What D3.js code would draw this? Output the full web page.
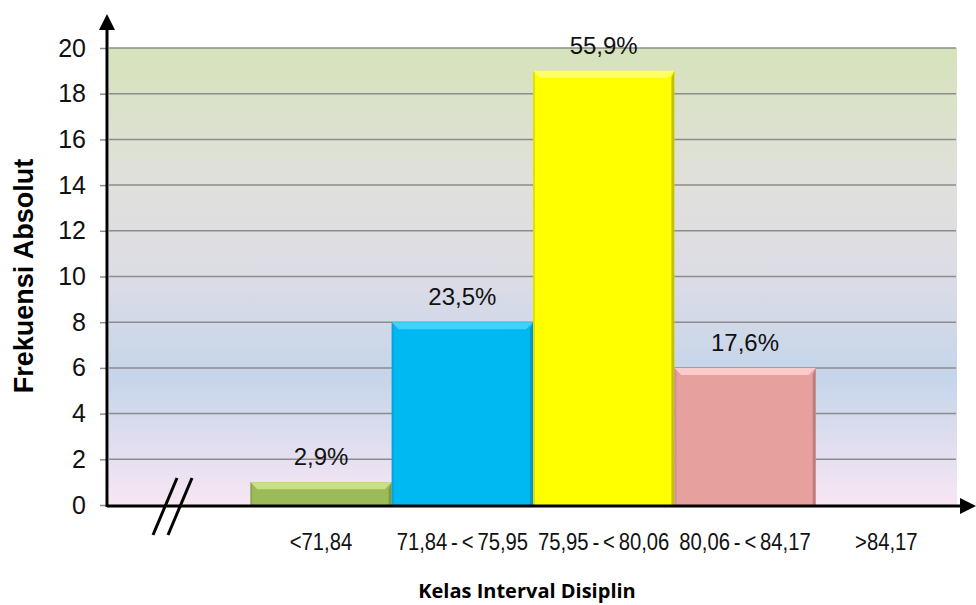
<!DOCTYPE html>
<html lang="en">
<head>
  <meta charset="UTF-8">
  <title>Kelas Interval Disiplin</title>
  <script src="https://d3js.org/d3.v7.min.js"></script>
  <style>
    html, body { margin: 0; background: #fff; }
    .tick-y { font-family: Arial, "Liberation Sans", sans-serif; font-size: 25px; fill: #111; }
    .tick-x { font-family: Arial, "Liberation Sans", sans-serif; font-size: 23px; fill: #111; word-spacing: -2px; }
    .pct { font-family: Arial, "Liberation Sans", sans-serif; font-size: 24px; fill: #111; text-anchor: middle; }
    .y-title { font-family: Arial, "Liberation Sans", sans-serif; font-size: 27px; font-weight: bold; }
    .x-title { font-family: "Open Sans", sans-serif; font-size: 20px; font-weight: bold; }
  </style>
</head>
<body>
  <svg width="976" height="605"></svg>
  <script>
    // data
    const categories = ["", "<71,84", "71,84 - < 75,95", "75,95 - < 80,06", "80,06 - < 84,17", ">84,17"];
    const counts = [null, 1, 8, 19, 6, 0];
    const percents = [null, "2,9%", "23,5%", "55,9%", "17,6%", null];
    const yTicks = [0, 2, 4, 6, 8, 10, 12, 14, 16, 18, 20];
    const barColors = [null, "#9bbb59", "#00b9f2", "#ffff00", "#e6a09e", "#ccc"];
    const barLight = [null, "#d2e88a", "#4dd4ff", "#ffff7a", "#fcd2d2", "#eee"];
    const barDark = [null, "#6f8a38", "#0088b8", "#a8a800", "#a87270", "#999"];

    const x0 = 109, x1 = 957, yTop = 48, yBot = 505;

    const svg = d3.select("svg");

    const x = d3.scaleBand().domain(categories).range([x0, x1]).padding(0);
    const y = d3.scaleLinear().domain([0, 20]).range([yBot, yTop]);

    // background gradient
    const defs = svg.append("defs");
    const bg = defs.append("linearGradient").attr("id", "bg")
      .attr("x1", 0).attr("y1", 0).attr("x2", 0).attr("y2", 1);
    bg.append("stop").attr("offset", "0%").attr("stop-color", "#d6e3bb");
    bg.append("stop").attr("offset", "30%").attr("stop-color", "#e0e0dc");
    bg.append("stop").attr("offset", "50%").attr("stop-color", "#dcdce6");
    bg.append("stop").attr("offset", "72%").attr("stop-color", "#c5d5ea");
    bg.append("stop").attr("offset", "100%").attr("stop-color", "#f8e6f4");

    svg.append("rect")
      .attr("x", x0).attr("y", yTop)
      .attr("width", x1 - x0).attr("height", yBot - yTop)
      .attr("fill", "url(#bg)");

    // gridlines
    svg.append("g").selectAll("line")
      .data(yTicks.filter(d => d > 0))
      .enter().append("line")
      .attr("x1", x0).attr("x2", x1 - 1)
      .attr("y1", d => y(d)).attr("y2", d => y(d))
      .attr("stroke", "#8c8c8c").attr("stroke-width", 1.5);

    // bars with bevel
    const bw = x.bandwidth();
    const bars = categories.map((c, i) => ({ c, v: counts[i], i })).filter(d => d.v);
    const g = svg.append("g");
    bars.forEach(d => {
      const bx = x(d.c), by = y(d.v), bh = yBot - y(d.v), e = 7;
      g.append("rect").attr("x", bx).attr("y", by).attr("width", bw).attr("height", bh)
        .attr("fill", barColors[d.i]);
      // top bevel
      g.append("polygon")
        .attr("points", [[bx, by], [bx + bw, by], [bx + bw - e, by + e], [bx + e, by + e]].join(" "))
        .attr("fill", barLight[d.i]).attr("opacity", 0.85);
      // right edge
      g.append("polygon")
        .attr("points", [[bx + bw, by], [bx + bw, by + bh], [bx + bw - 3, by + bh], [bx + bw - 3, by + e]].join(" "))
        .attr("fill", barDark[d.i]).attr("opacity", 0.7);
      // left edge
      g.append("polygon")
        .attr("points", [[bx, by], [bx + 2, by + 2], [bx + 2, by + bh], [bx, by + bh]].join(" "))
        .attr("fill", barDark[d.i]).attr("opacity", 0.35);
    });

    // percent labels
    svg.append("g").selectAll("text")
      .data(bars)
      .enter().append("text")
      .attr("class", "pct")
      .attr("x", d => x(d.c) + bw / 2)
      .attr("y", d => y(d.v) - 17)
      .text(d => percents[d.i]);

    // y axis
    const yAxis = d3.axisLeft(y).tickValues(yTicks).tickSize(7).tickPadding(14);
    const ya = svg.append("g").attr("transform", `translate(${x0 - 2},0)`).call(yAxis);
    ya.select(".domain").remove();
    ya.selectAll(".tick line").attr("stroke", "#8c8c8c").attr("stroke-width", 1.5);
    ya.selectAll(".tick text").attr("class", "tick-y").attr("font-size", null).attr("font-family", null);

    // x axis labels (narrow, as in the original)
    const xa = svg.append("g").attr("transform", `translate(0,${yBot})`)
      .call(d3.axisBottom(x).tickSize(0).tickPadding(31));
    xa.select(".domain").remove();
    xa.selectAll(".tick text").attr("class", "tick-x").attr("font-size", null).attr("font-family", null)
      .attr("dy", "0.6em")
      .attr("transform", "scale(0.88,1)");

    // axis lines with arrows
    svg.append("line").attr("x1", x0 - 2).attr("x2", x0 - 2).attr("y1", yBot + 2).attr("y2", 28)
      .attr("stroke", "#000").attr("stroke-width", 3);
    svg.append("polygon").attr("points", [[x0 - 2, 14], [x0 - 10, 30], [x0 + 6, 30]].join(" ")).attr("fill", "#000");
    svg.append("line").attr("x1", x0 - 2).attr("x2", 962).attr("y1", yBot + 1).attr("y2", yBot + 1)
      .attr("stroke", "#000").attr("stroke-width", 3);
    svg.append("polygon").attr("points", [[976, yBot + 1], [960, yBot - 7], [960, yBot + 9]].join(" ")).attr("fill", "#000");

    // axis break marks
    svg.append("line").attr("x1", 153).attr("y1", 535).attr("x2", 177).attr("y2", 478)
      .attr("stroke", "#000").attr("stroke-width", 3);
    svg.append("line").attr("x1", 168).attr("y1", 535).attr("x2", 192).attr("y2", 478)
      .attr("stroke", "#000").attr("stroke-width", 3);

    // titles
    svg.append("text").attr("class", "y-title")
      .attr("transform", "translate(33,276) rotate(-90)")
      .attr("text-anchor", "middle")
      .text("Frekuensi Absolut");
    svg.append("text").attr("class", "x-title")
      .attr("x", 527).attr("y", 598)
      .attr("text-anchor", "middle")
      .text("Kelas Interval Disiplin");
  </script>
</body>
</html>
